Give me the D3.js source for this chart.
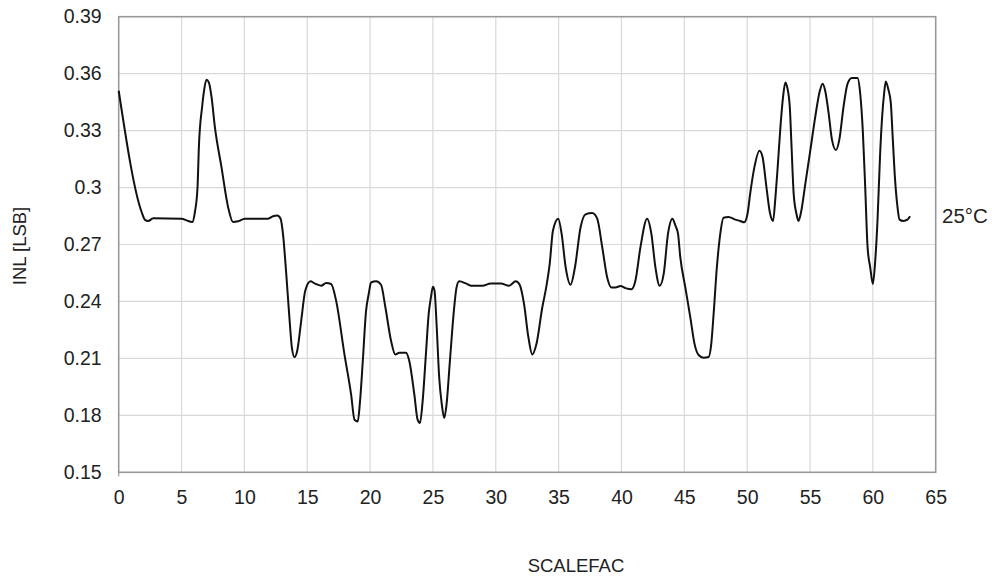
<!DOCTYPE html>
<html>
<head>
<meta charset="utf-8">
<script src="https://cdn.jsdelivr.net/npm/d3@7"></script>
<style>
  html, body { margin: 0; padding: 0; background: #fff; }
  svg { display: block; font-family: "Liberation Sans", Arial, sans-serif; }
</style>
</head>
<body>
<svg id="chart" width="992" height="580"></svg>
<script>
// ---- data ----
const scalefac = [0, 1.83, 2.09, 2.35, 2.75, 5.0, 5.4, 5.85, 6.06, 6.27, 6.38, 6.64, 6.8, 6.98, 7.17, 7.38, 7.65, 8.17, 8.7, 9.1, 9.5, 10.03, 11.88, 12.28, 12.62, 12.88, 13.07, 13.33, 13.6, 13.78, 13.99, 14.2, 14.52, 14.84, 15.26, 15.58, 16.11, 16.5, 16.9, 17.3, 17.96, 18.49, 18.76, 19.02, 19.2, 19.42, 19.68, 19.89, 20.08, 20.48, 20.87, 21.22, 21.67, 22.01, 22.33, 22.86, 23.12, 23.52, 23.78, 23.97, 24.18, 24.44, 24.66, 24.84, 25.0, 25.13, 25.29, 25.5, 25.71, 25.9, 26.08, 26.35, 26.69, 26.88, 27.09, 27.62, 28.02, 28.94, 29.6, 30.4, 31.06, 31.59, 31.9, 32.25, 32.6, 32.9, 33.23, 33.7, 34.0, 34.29, 34.55, 34.97, 35.24, 35.56, 35.95, 36.3, 36.75, 37.14, 37.67, 38.07, 38.47, 38.86, 39.2, 39.52, 39.92, 40.32, 40.79, 41.11, 41.51, 42.04, 42.38, 42.7, 43.04, 43.36, 43.7, 44.05, 44.29, 44.5, 44.68, 45.08, 45.48, 45.82, 46.14, 46.53, 46.93, 47.14, 47.33, 47.59, 47.86, 48.12, 48.52, 49.05, 49.44, 49.76, 50.03, 50.24, 50.58, 50.98, 51.22, 51.53, 51.8, 52.06, 52.25, 52.43, 52.65, 52.86, 53.04, 53.17, 53.39, 53.52, 53.7, 53.92, 54.08, 54.29, 54.63, 55.03, 55.42, 55.77, 56.01, 56.22, 56.48, 56.75, 57.06, 57.33, 57.67, 57.99, 58.33, 58.78, 58.99, 59.21, 59.39, 59.58, 59.79, 60.0, 60.19, 60.37, 60.58, 60.74, 60.9, 61.03, 61.24, 61.43, 61.59, 61.77, 61.96, 62.12, 62.43, 62.75, 62.96];
const inl25 = [0.351, 0.287, 0.283, 0.2824, 0.2838, 0.2836, 0.2827, 0.2818, 0.287, 0.30, 0.3215, 0.3427, 0.3515, 0.3568, 0.3554, 0.348, 0.332, 0.311, 0.2898, 0.2818, 0.2822, 0.2836, 0.2836, 0.2849, 0.2853, 0.2836, 0.2756, 0.2545, 0.2298, 0.2156, 0.2107, 0.2139, 0.2298, 0.2456, 0.2506, 0.2495, 0.2483, 0.2497, 0.2492, 0.2403, 0.2121, 0.191, 0.1777, 0.1768, 0.1874, 0.2086, 0.235, 0.2439, 0.25, 0.2506, 0.2488, 0.2368, 0.2192, 0.2121, 0.213, 0.213, 0.2086, 0.191, 0.1777, 0.176, 0.1874, 0.2121, 0.2333, 0.2421, 0.2478, 0.2456, 0.228, 0.1998, 0.1856, 0.1786, 0.1856, 0.2086, 0.2368, 0.2474, 0.2506, 0.2495, 0.2483, 0.2483, 0.2495, 0.2495, 0.2483, 0.2506, 0.2488, 0.2386, 0.2209, 0.2121, 0.2174, 0.2368, 0.2470, 0.2598, 0.2774, 0.2836, 0.2756, 0.258, 0.2488, 0.258, 0.2792, 0.2859, 0.2866, 0.2836, 0.2686, 0.2527, 0.2474, 0.2474, 0.2481, 0.247, 0.2464, 0.2509, 0.2686, 0.2836, 0.2756, 0.258, 0.2483, 0.2545, 0.2756, 0.2836, 0.28, 0.2756, 0.2633, 0.2474, 0.2315, 0.2174, 0.2118, 0.2104, 0.2107, 0.2174, 0.2333, 0.258, 0.2756, 0.2841, 0.2845, 0.2831, 0.2824, 0.2817, 0.2862, 0.2968, 0.3109, 0.3194, 0.3162, 0.3004, 0.2871, 0.2824, 0.295, 0.3109, 0.3321, 0.348, 0.3554, 0.3533, 0.3427, 0.3233, 0.2968, 0.2862, 0.2824, 0.2871, 0.3021, 0.3198, 0.3374, 0.3506, 0.3547, 0.3506, 0.3392, 0.3251, 0.3198, 0.3251, 0.3427, 0.3547, 0.3577, 0.3577, 0.3498, 0.3286, 0.3004, 0.2686, 0.258, 0.2492, 0.2616, 0.2827, 0.318, 0.3374, 0.3498, 0.3559, 0.3515, 0.3445, 0.3251, 0.3039, 0.2898, 0.2831, 0.2824, 0.2831, 0.2849];
const xTicks = [0, 5, 10, 15, 20, 25, 30, 35, 40, 45, 50, 55, 60, 65];
const yTicks = [0.15, 0.18, 0.21, 0.24, 0.27, 0.3, 0.33, 0.36, 0.39];
const yTickLabels = ["0.15", "0.18", "0.21", "0.24", "0.27", "0.3", "0.33", "0.36", "0.39"];
const xTitle = "SCALEFAC";
const yTitle = "INL [LSB]";
const seriesLabel = "25°C";

// ---- layout ----
const pLeft = 118.7, pRight = 935.7, pTop = 16.7, pBottom = 472.3;
const svg = d3.select("#chart");
const x = d3.scaleLinear().domain([0, 65]).range([pLeft, pRight]);
const y = d3.scaleLinear().domain([0.15, 0.39]).range([pBottom, pTop]);

// gridlines
const grid = svg.append("g");
grid.selectAll("line.vg").data(xTicks.slice(1, -1)).enter().append("line")
  .attr("x1", d => x(d)).attr("x2", d => x(d))
  .attr("y1", pTop).attr("y2", pBottom)
  .attr("stroke", "#d9d9d9").attr("stroke-width", 1.2);
grid.selectAll("line.hg").data(yTicks.slice(1, -1)).enter().append("line")
  .attr("x1", pLeft).attr("x2", pRight)
  .attr("y1", d => y(d)).attr("y2", d => y(d))
  .attr("stroke", "#d9d9d9").attr("stroke-width", 1.2);

// frame
svg.append("rect")
  .attr("x", pLeft).attr("y", pTop)
  .attr("width", pRight - pLeft).attr("height", pBottom - pTop)
  .attr("fill", "none").attr("stroke", "#999").attr("stroke-width", 1.6);
// tiny tick at origin
svg.append("line").attr("x1", pLeft).attr("x2", pLeft)
  .attr("y1", pBottom).attr("y2", pBottom + 4)
  .attr("stroke", "#999").attr("stroke-width", 1.2);

// axes (labels only)
const yAxis = d3.axisLeft(y).tickValues(yTicks)
  .tickFormat((d, i) => yTickLabels[i]).tickSize(0).tickPadding(17);
const gy = svg.append("g").attr("transform", `translate(${pLeft},0)`).call(yAxis);
gy.select(".domain").remove();
gy.selectAll("text").attr("font-size", 19.5).attr("fill", "#222")
  .attr("font-family", "Liberation Sans, Arial, sans-serif");

const xAxis = d3.axisBottom(x).tickValues(xTicks).tickSize(0).tickPadding(0);
const gx = svg.append("g").attr("transform", `translate(0,${pBottom})`).call(xAxis);
gx.select(".domain").remove();
gx.selectAll("text").attr("font-size", 19.5).attr("fill", "#222")
  .attr("font-family", "Liberation Sans, Arial, sans-serif")
  .attr("dy", "0").attr("y", 17).attr("dominant-baseline", "hanging");

// line
const pts = scalefac.map((s, i) => [s, inl25[i]]);
const line = d3.line().x(d => x(d[0])).y(d => y(d[1])).curve(d3.curveMonotoneX);
svg.append("path").datum(pts)
  .attr("d", line).attr("fill", "none")
  .attr("stroke", "#111").attr("stroke-width", 2).attr("stroke-linejoin", "round");

// series label
svg.append("text").attr("x", 942).attr("y", 218)
  .attr("dominant-baseline", "middle")
  .attr("font-size", 20.5).attr("fill", "#222").text(seriesLabel);

// titles
svg.append("text").attr("x", 576).attr("y", 567)
  .attr("text-anchor", "middle").attr("dominant-baseline", "middle")
  .attr("font-size", 18.5).attr("fill", "#222").text(xTitle);
svg.append("text")
  .attr("transform", `translate(21,246) rotate(-90)`)
  .attr("text-anchor", "middle").attr("dominant-baseline", "middle")
  .attr("font-size", 18.5).attr("fill", "#222").text(yTitle);
</script>
</body>
</html>
